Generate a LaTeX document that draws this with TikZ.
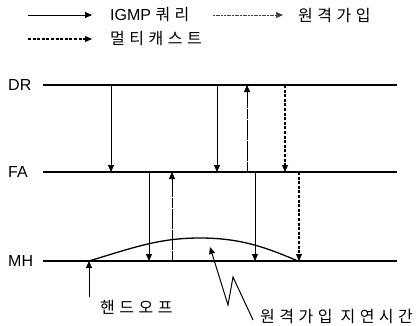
\documentclass[tikz,border=0pt]{standalone}
\usepackage{fontspec}
\setmainfont{Liberation Sans}
\newfontfamily\kr[LetterSpace=28]{Noto Sans CJK KR}
\usetikzlibrary{arrows.meta}
\begin{document}
\begin{tikzpicture}[x=1pt,y=-1pt,
  tip/.style={-{Triangle[length=7pt,width=6pt]}},
  query/.style={tip,line width=0.9pt},
  rjoin/.style={tip,line width=0.9pt,dash pattern=on 10pt off 0.6pt},
  mcast/.style={tip,line width=1.1pt,dash pattern=on 3pt off 1.6pt},
  level/.style={line width=1.5pt},
  lbl/.style={inner sep=0pt,font=\fontsize{16}{18}\selectfont},
  krl/.style={inner sep=0pt,anchor=west,font=\fontsize{16}{18}\selectfont\kr}]
\useasboundingbox (0,0) rectangle (418,325);
% legend
\coordinate (l1a) at (28,15); \coordinate (l1b) at (92,15);
\coordinate (l2a) at (213,15); \coordinate (l2b) at (283,15);
\coordinate (l3a) at (28,39); \coordinate (l3b) at (92,39);
\draw[query] (l1a) -- (l1b);
\node[lbl,anchor=west] (tq) at (110,15) {IGMP {\kr\fontsize{16}{18}\selectfont 쿼리}};
\draw[tip,line width=0.7pt,draw=black!75,dash pattern=on 2pt off 0.7pt] (l2a) -- (l2b);
\node[krl] (tj) at (298,15) {원격가입};
\draw[mcast] (l3a) -- (l3b);
\node[krl] (tm) at (110,39) {멀티캐스트};
% levels
\node[lbl,anchor=west] (dr) at (8,85) {DR};
\node[lbl,anchor=west] (fa) at (8,172) {FA};
\node[lbl,anchor=west] (mh) at (8,261) {MH};
\draw[level] (43,85) coordinate (drL) -- (397,85) coordinate (drR);
\draw[level] (43,172) coordinate (faL) -- (397,172) coordinate (faR);
\draw[level] (43,261) coordinate (mhL) -- (397,261) coordinate (mhR);
% DR-FA
\coordinate (d1) at (111,85); \coordinate (f1) at (111,172);
\coordinate (d2) at (217,85); \coordinate (f2) at (217,172);
\coordinate (d3) at (247,85); \coordinate (f3) at (247,172);
\coordinate (d4) at (285,85); \coordinate (f4) at (285,172);
\draw[query] (d1) -- (f1);
\draw[query] (d2) -- (f2);
\draw[rjoin] (f3) -- (d3);
\draw[mcast] (d4) -- (f4);
% FA-MH
\coordinate (g1) at (149,172); \coordinate (m1) at (149,261);
\coordinate (g2) at (172,172); \coordinate (m2) at (172,261);
\coordinate (g3) at (255,172); \coordinate (m3) at (255,261);
\coordinate (g4) at (299,172); \coordinate (m4) at (299,261);
\draw[query] (g1) -- (m1);
\draw[rjoin] (m2) -- (g2);
\draw[query] (g3) -- (m3);
\draw[mcast] (g4) -- (m4);
% curve
\coordinate (c0) at (89,261); \coordinate (cp) at (200,238); \coordinate (c1) at (298,261);
\draw[line width=1.3pt] (c0) .. controls (135,247) and (160,238) .. (cp) .. controls (240,238) and (265,247) .. (c1);
% handoff
\coordinate (h0) at (89,297);
\draw[query] (h0) -- (c0);
\node[krl] (ho) at (100,307) {핸드오프};
% zigzag
\coordinate (z0) at (253,320); \coordinate (z1) at (233,277); \coordinate (z2) at (228,305); \coordinate (zt) at (210,247);
\draw[tip,line width=1pt] (z0) -- (z1) -- (z2) -- (zt);
\node[krl] (dl) at (260,317) {원격가입 지연시간};
\end{tikzpicture}
\end{document}
